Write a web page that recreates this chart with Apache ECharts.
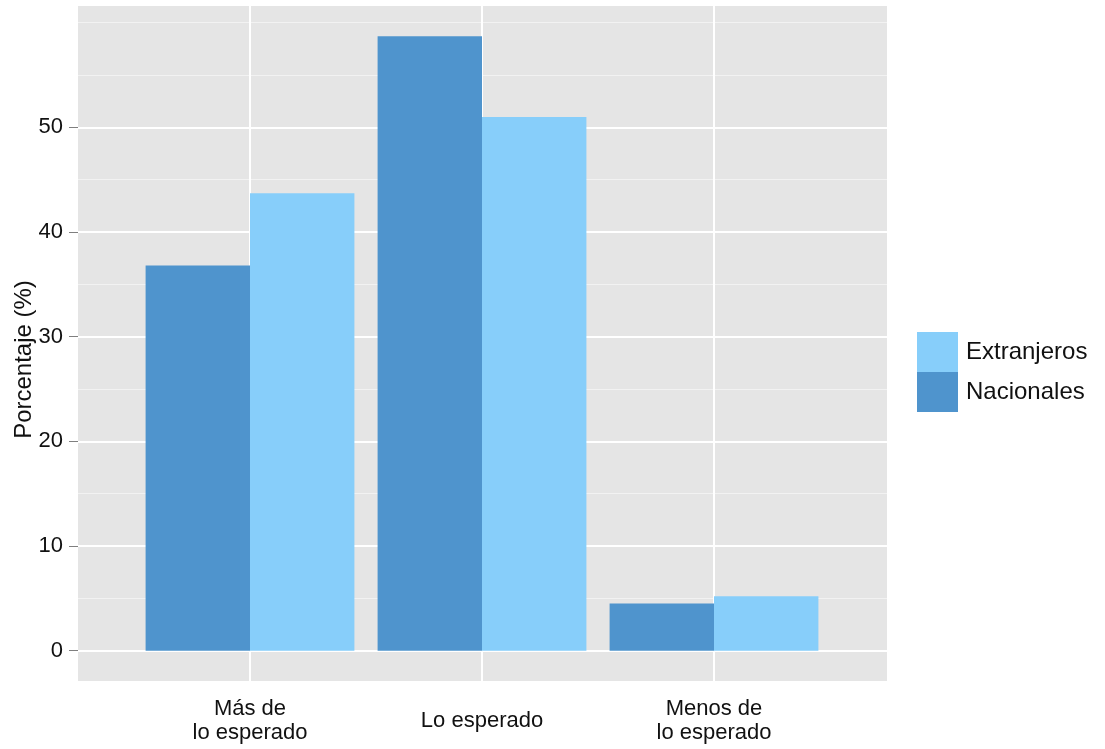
<!DOCTYPE html>
<html>
<head>
<meta charset="utf-8">
<script src="https://cdn.jsdelivr.net/npm/echarts@6/dist/echarts.min.js"></script>
<style>html,body{margin:0;padding:0;background:#fff;}#c{width:1105px;height:749px;}</style>
</head>
<body>
<div id="c"></div>
<script>
const categories = ['Más de\nlo esperado', 'Lo esperado', 'Menos de\nlo esperado'];
const nacionales = [36.8, 58.7, 4.5];
const extranjeros = [43.7, 51.0, 5.2];
const yTicks = [0, 10, 20, 30, 40, 50];
const yMinor = [5, 15, 25, 35, 45, 55, 60];
const seriesNames = ['Nacionales', 'Extranjeros'];
const legendOrder = ['Extranjeros', 'Nacionales'];

const FONT = "'Liberation Sans', Arial, Helvetica, sans-serif";
const TXT = '#111111';
const TICK = '#7f7f7f';
const yMin = -2.9, yMax = 61.6;

const chart = echarts.init(document.getElementById('c'), null, {renderer: 'canvas'});
chart.setOption({
  animation: false,
  textStyle: {fontFamily: FONT},
  grid: [
    {left: 78, width: 809, top: 6, height: 675, show: true, backgroundColor: '#e5e5e5', borderWidth: 0, containLabel: false, outerBoundsMode: 'none'},
    {left: 134, width: 696, top: 6, height: 675, show: false, containLabel: false, outerBoundsMode: 'none'}
  ],
  xAxis: [
    {gridIndex: 0, type: 'value', min: 0, max: 1, show: false},
    {
      gridIndex: 1, type: 'category', data: categories, offset: 3,
      axisLine: {show: false},
      axisTick: {show: true, alignWithLabel: true, length: 9, lineStyle: {color: TICK, width: 1}},
      axisLabel: {margin: 37, fontSize: 22, color: TXT, lineHeight: 24, verticalAlign: 'middle', fontFamily: FONT, interval: 0},
      splitLine: {show: false}
    }
  ],
  yAxis: [
    {
      gridIndex: 0, type: 'value', min: yMin, max: yMax, offset: 2,
      axisLine: {show: false},
      axisTick: {show: true, length: 9, customValues: yTicks, lineStyle: {color: TICK, width: 1}},
      axisLabel: {customValues: yTicks, margin: 13, fontSize: 22, color: TXT, fontFamily: FONT},
      splitLine: {show: false},
      name: 'Porcentaje (%)', nameLocation: 'middle', nameGap: 40, nameRotate: 90, nameMoveOverlap: false,
      nameTextStyle: {fontSize: 24, color: TXT, fontFamily: FONT, padding: [0, 32, 0, 0]}
    },
    {gridIndex: 1, type: 'value', min: yMin, max: yMax, show: false}
  ],
  legend: {
    data: legendOrder, orient: 'vertical', left: 917, top: 332, padding: 0,
    itemWidth: 41, itemHeight: 40, itemGap: 0, icon: 'rect',
    textStyle: {fontSize: 24, color: TXT, fontFamily: FONT, padding: [0, 0, 0, 3]},
    selectedMode: false
  },
  series: [
    {
      type: 'line', xAxisIndex: 0, yAxisIndex: 0, data: [], z: 1, silent: true,
      markLine: {
        z: 1, silent: true, symbol: 'none', label: {show: false}, animation: false,
        emphasis: {disabled: true},
        data: yMinor.map(v => ({yAxis: v, lineStyle: {color: '#f2f2f2', width: 1, type: 'solid'}}))
          .concat(yTicks.map(v => ({yAxis: v, lineStyle: {color: '#ffffff', width: 2, type: 'solid'}})))
      }
    },
    {
      type: 'line', xAxisIndex: 1, yAxisIndex: 1, data: [], z: 1, silent: true,
      markLine: {
        z: 1, silent: true, symbol: 'none', label: {show: false}, animation: false,
        emphasis: {disabled: true},
        data: categories.map(c => ({xAxis: c, lineStyle: {color: '#ffffff', width: 2, type: 'solid'}}))
      }
    },
    {
      name: seriesNames[0], type: 'bar', xAxisIndex: 1, yAxisIndex: 1, data: nacionales,
      barGap: '0%', barCategoryGap: '10%', z: 3,
      itemStyle: {color: '#4f94cd'}
    },
    {
      name: seriesNames[1], type: 'bar', xAxisIndex: 1, yAxisIndex: 1, data: extranjeros,
      barGap: '0%', barCategoryGap: '10%', z: 3,
      itemStyle: {color: '#87cefa'}
    }
  ]
});
</script>
</body>
</html>
